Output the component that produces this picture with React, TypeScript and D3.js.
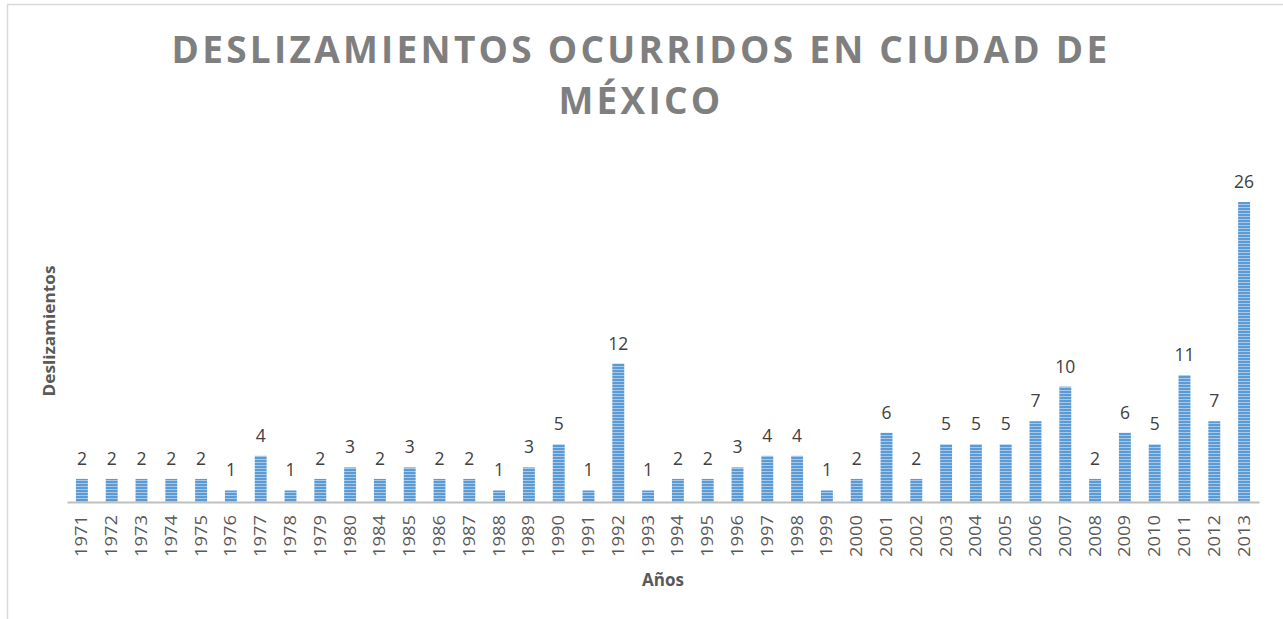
import React, { useRef, useEffect } from 'react';
import * as d3 from 'd3';

const years = [
  '1971', '1972', '1973', '1974', '1975', '1976', '1977', '1978', '1979', '1980',
  '1984', '1985', '1986', '1987', '1988', '1989', '1990', '1991', '1992', '1993',
  '1994', '1995', '1996', '1997', '1998', '1999', '2000', '2001', '2002', '2003',
  '2004', '2005', '2006', '2007', '2008', '2009', '2010', '2011', '2012', '2013',
];
const counts = [
  2, 2, 2, 2, 2, 1, 4, 1, 2, 3,
  2, 3, 2, 2, 1, 3, 5, 1, 12, 1,
  2, 2, 3, 4, 4, 1, 2, 6, 2, 5,
  5, 5, 7, 10, 2, 6, 5, 11, 7, 26,
];
const titleLines = ['DESLIZAMIENTOS OCURRIDOS EN CIUDAD DE', 'MÉXICO'];
const xTitle = 'Años';
const yTitle = 'Deslizamientos';

const App = () => {
  const svgRef = useRef<SVGSVGElement>(null);

  useEffect(() => {
    const W = 1283;
    const H = 619;
    const margin = { top: 202, right: 24, bottom: 117, left: 67 };
    const width = W - margin.left - margin.right;
    const height = H - margin.top - margin.bottom;

    const root = d3.select(svgRef.current);
    root.selectAll('*').remove();
    root.attr('width', W).attr('height', H);

    // striped fill like the excel pattern
    const defs = root.append('defs');
    const pat = defs
      .append('pattern')
      .attr('id', 'stripes')
      .attr('patternUnits', 'userSpaceOnUse')
      .attr('width', 4)
      .attr('height', 3);
    pat.append('rect').attr('width', 4).attr('height', 3).attr('fill', '#5b9bd5');
    pat.append('rect').attr('y', 2).attr('width', 4).attr('height', 1).attr('fill', '#a9c8e8');

    root
      .append('rect')
      .attr('x', 0)
      .attr('y', 0)
      .attr('width', W)
      .attr('height', H)
      .attr('fill', '#fff');

    // chart area border (only top and left show)
    root
      .append('rect')
      .attr('x', 7.5)
      .attr('y', 4.5)
      .attr('width', W + 20)
      .attr('height', H + 20)
      .attr('fill', 'none')
      .attr('stroke', '#d9d9d9')
      .attr('stroke-width', 1.5);

    // title
    root
      .append('text')
      .attr('text-anchor', 'middle')
      .attr('font-family', 'Open Sans')
      .attr('font-weight', 'bold')
      .attr('font-size', 37)
      .attr('letter-spacing', 3.25)
      .attr('fill', '#7f7f7f')
      .selectAll('tspan')
      .data(titleLines)
      .join('tspan')
      .attr('x', 641)
      .attr('y', (d, i) => 63 + i * 51)
      .text((d) => d);

    const svg = root
      .append('g')
      .attr('transform', `translate(${margin.left},${margin.top})`);

    const x = d3.scaleBand().domain(years).range([0, width]).paddingInner(0.6).paddingOuter(0.3);
    const y = d3.scaleLinear().domain([0, 26]).range([height, 0]);

    // bars
    svg
      .selectAll('rect.bar')
      .data(counts)
      .join('rect')
      .attr('class', 'bar')
      .attr('x', (d, i) => x(years[i]) as number)
      .attr('y', (d) => y(d))
      .attr('width', x.bandwidth())
      .attr('height', (d) => height - y(d))
      .attr('fill', 'url(#stripes)');

    // data labels
    svg
      .selectAll('text.lbl')
      .data(counts)
      .join('text')
      .attr('class', 'lbl')
      .attr('x', (d, i) => (x(years[i]) as number) + x.bandwidth() / 2)
      .attr('y', (d) => y(d) - 14)
      .attr('text-anchor', 'middle')
      .attr('font-family', 'Open Sans')
      .attr('font-size', 17.5)
      .attr('fill', '#404040')
      .text((d) => d);

    // x-axis
    const xAxis = svg
      .append('g')
      .attr('transform', `translate(0,${height})`)
      .call(d3.axisBottom(x).tickSize(0).tickPadding(0));
    xAxis.select('.domain').attr('stroke', '#bfbfbf').attr('stroke-width', 2);
    xAxis
      .selectAll('text')
      .attr('font-family', 'Open Sans')
      .attr('font-size', 15.5)
      .attr('fill', '#595959')
      .attr('transform', 'rotate(-90)')
      .attr('text-anchor', 'end')
      .attr('x', -13)
      .attr('y', 0)
      .attr('dy', '0.35em')
      .attr('textLength', 42)
      .attr('lengthAdjust', 'spacingAndGlyphs');

    // axis titles
    root
      .append('text')
      .attr('x', margin.left + width / 2)
      .attr('y', 586)
      .attr('text-anchor', 'middle')
      .attr('font-family', 'Open Sans')
      .attr('font-weight', 'bold')
      .attr('font-size', 17)
      .attr('fill', '#595959')
      .text(xTitle);

    root
      .append('text')
      .attr('transform', 'translate(55,331) rotate(-90)')
      .attr('text-anchor', 'middle')
      .attr('font-family', 'Open Sans')
      .attr('font-weight', 'bold')
      .attr('font-size', 16.5)
      .attr('fill', '#595959')
      .attr('textLength', 131)
      .attr('lengthAdjust', 'spacingAndGlyphs')
      .text(yTitle);
  }, []);

  return (
    <svg
      ref={svgRef}
      style={{ position: 'absolute', left: 0, top: 0, display: 'block' }}
    ></svg>
  );
};

export default App;
